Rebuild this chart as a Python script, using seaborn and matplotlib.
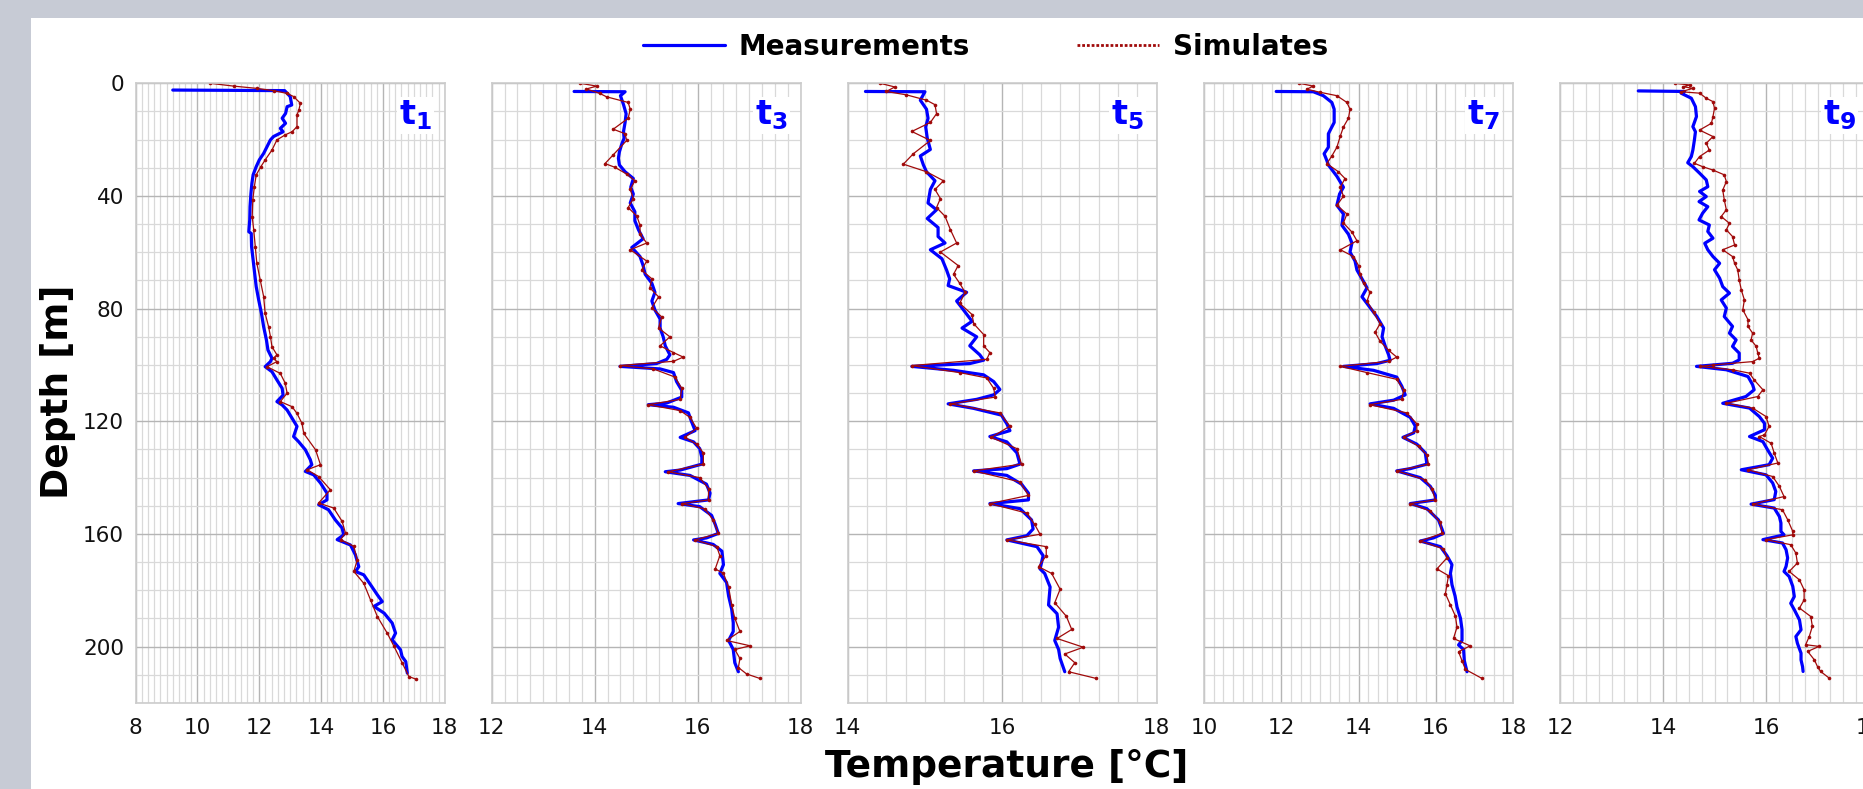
import matplotlib
matplotlib.use("Agg")
import matplotlib.pyplot as plt
import pandas as pd
import seaborn as sns
from matplotlib.lines import Line2D
from matplotlib.patches import Rectangle
from matplotlib.ticker import MultipleLocator

# (depth [m], temperature [degC])
T1_MEAS = [(2.4, 9.2), (2.6, 12.82), (4.7, 13.0), (7.7, 13.05), (8.3, 12.9), (10.7, 12.85), (12.4, 12.74),
           (14.2, 12.85), (16.0, 12.68), (17.2, 12.77), (18.9, 12.46), (20.1, 12.36), (22.5, 12.25), (24.9, 12.14),
           (27.2, 12.0), (29.6, 11.9), (32.5, 11.8), (35.5, 11.76), (39.0, 11.73), (43.8, 11.7), (48.5, 11.69),
           (52.7, 11.66), (53.3, 11.74), (58.0, 11.75), (62.7, 11.8), (67.5, 11.85), (72.2, 11.9), (76.9, 11.98),
           (81.7, 12.07), (86.4, 12.14), (91.1, 12.23), (94.7, 12.28), (97.6, 12.41), (98.8, 12.36), (100.6, 12.19),
           (102.4, 12.41), (105.3, 12.57), (108.3, 12.74), (110.7, 12.77), (113.0, 12.57), (114.2, 12.74),
           (116.0, 12.9), (119.8, 13.11), (121.8, 13.22), (125.4, 13.11), (127.2, 13.27), (130.1, 13.49),
           (133.6, 13.65), (135.4, 13.7), (137.8, 13.49), (139.0, 13.76), (141.9, 13.98), (145.5, 14.19),
           (147.9, 14.19), (149.6, 13.92), (151.4, 14.24), (155.0, 14.46), (157.9, 14.68), (160.3, 14.73),
           (162.0, 14.52), (163.9, 14.95), (167.4, 15.11), (171.6, 15.22), (173.3, 15.11), (174.5, 15.38),
           (178.0, 15.6), (181.6, 15.82), (184.0, 15.98), (185.7, 15.71), (188.1, 16.04), (191.6, 16.3),
           (195.2, 16.41), (197.6, 16.3), (201.1, 16.57), (203.5, 16.62), (205.3, 16.74), (209.4, 16.79)]
T1_SIM = [(0.0, 10.41), (1.0, 11.17), (1.8, 11.92), (2.6, 12.46), (3.6, 12.9), (4.7, 13.11), (7.1, 13.33),
          (9.5, 13.28), (11.2, 13.22), (15.4, 13.22), (17.2, 13.06), (18.3, 12.84), (20.1, 12.57), (23.7, 12.41),
          (27.2, 12.19), (29.6, 12.05), (32.5, 11.9), (36.7, 11.84), (41.4, 11.79), (47.3, 11.77), (52.1, 11.82),
          (58.0, 11.87), (63.9, 11.92), (69.8, 12.03), (75.7, 12.14), (81.7, 12.19), (86.4, 12.3), (89.9, 12.36),
          (93.5, 12.41), (96.4, 12.57), (97.6, 12.46), (98.8, 12.57), (100.6, 12.25), (103.0, 12.68),
          (106.5, 12.84), (110.0, 12.9), (113.0, 12.68), (114.8, 13.06), (117.2, 13.22), (120.7, 13.38),
          (124.3, 13.44), (130.1, 13.82), (135.4, 13.98), (137.2, 13.55), (139.6, 13.92), (144.3, 14.3),
          (149.0, 13.92), (150.8, 14.41), (155.5, 14.68), (159.7, 14.79), (162.0, 14.63), (164.4, 15.06),
          (169.2, 15.17), (173.3, 15.06), (177.5, 15.38), (183.4, 15.6), (189.3, 15.82), (195.2, 16.14),
          (199.9, 16.36), (205.9, 16.63), (210.6, 16.84), (211.5, 17.06)]

T3_MEAS = [(2.9, 13.6), (3.0, 14.59), (4.4, 14.5), (7.6, 14.56), (10.8, 14.61), (13.9, 14.59), (17.1, 14.56),
           (19.5, 14.57), (21.9, 14.52), (24.3, 14.48), (26.6, 14.46), (29.0, 14.48), (31.4, 14.59), (33.8, 14.75),
           (36.9, 14.7), (39.3, 14.75), (42.5, 14.69), (45.6, 14.78), (48.8, 14.78), (52.0, 14.85), (55.2, 14.94),
           (58.3, 14.72), (61.5, 14.88), (64.7, 14.94), (67.8, 14.98), (71.0, 15.11), (74.2, 15.17), (77.3, 15.11),
           (80.5, 15.17), (83.7, 15.27), (86.9, 15.27), (90.0, 15.33), (93.2, 15.37), (96.4, 15.46), (98.0, 15.4),
           (99.5, 15.2), (100.5, 14.49), (101.4, 15.27), (102.7, 15.53), (105.9, 15.59), (109.0, 15.69),
           (111.4, 15.69), (113.5, 15.4), (114.1, 15.04), (115.0, 15.53), (117.0, 15.82), (120.1, 15.88),
           (123.3, 15.95), (125.7, 15.66), (127.3, 15.92), (129.7, 16.04), (132.8, 16.08), (135.2, 16.08),
           (137.3, 15.66), (137.9, 15.37), (139.2, 15.85), (142.3, 16.17), (145.5, 16.24), (147.9, 16.21),
           (149.2, 15.62), (150.3, 16.04), (153.4, 16.27), (156.6, 16.34), (159.8, 16.4), (161.4, 16.17),
           (162.1, 15.92), (163.7, 16.3), (166.1, 16.47), (170.9, 16.5), (174.0, 16.43), (177.2, 16.56),
           (182.0, 16.6), (186.7, 16.66), (191.5, 16.69), (194.6, 16.69), (197.8, 16.6), (201.0, 16.69),
           (205.7, 16.72), (208.9, 16.79)]
T3_SIM = [(0.0, 13.72), (1.0, 14.04), (2.0, 13.84), (3.6, 14.1), (4.8, 14.23), (6.8, 14.65), (9.2, 14.69),
          (12.4, 14.65), (16.3, 14.36), (17.9, 14.59), (20.3, 14.62), (25.4, 14.36), (28.5, 14.2), (29.8, 14.39),
          (32.2, 14.62), (34.6, 14.78), (37.7, 14.69), (40.9, 14.75), (44.1, 14.65), (47.2, 14.82), (50.4, 14.88),
          (53.6, 14.88), (56.7, 15.01), (59.1, 14.69), (63.1, 15.01), (66.3, 14.91), (69.4, 15.11), (72.6, 15.07),
          (75.8, 15.24), (79.7, 15.11), (82.9, 15.3), (86.9, 15.24), (90.0, 15.46), (93.2, 15.27), (95.6, 15.53),
          (97.2, 15.72), (98.7, 15.53), (100.2, 14.49), (101.4, 15.14), (104.3, 15.56), (108.3, 15.69),
          (112.2, 15.66), (114.1, 15.04), (116.2, 15.66), (118.6, 15.85), (122.5, 15.98), (125.7, 15.75),
          (128.1, 15.98), (131.2, 16.11), (135.2, 16.11), (137.9, 15.43), (140.0, 16.04), (143.9, 16.21),
          (147.9, 16.21), (149.2, 15.69), (151.1, 16.14), (155.0, 16.3), (159.8, 16.4), (162.1, 15.95),
          (164.5, 16.37), (167.7, 16.43), (172.4, 16.34), (174.0, 16.5), (178.8, 16.6), (185.2, 16.66),
          (189.9, 16.72), (194.6, 16.82), (197.8, 16.56), (199.7, 17.02), (201.0, 16.72), (204.2, 16.82),
          (207.4, 16.79), (209.7, 16.95), (211.3, 17.21)]

T5_MEAS = [(2.9, 14.23), (3.0, 15.0), (6.0, 14.94), (9.2, 15.02), (12.4, 15.04), (15.5, 15.01), (19.5, 15.03),
           (23.5, 15.07), (25.8, 14.94), (29.0, 14.98), (31.4, 15.02), (34.6, 15.13), (37.7, 15.07), (42.5, 15.04),
           (44.9, 15.15), (48.0, 15.03), (51.2, 15.17), (54.4, 15.17), (56.7, 15.26), (59.1, 15.07), (62.3, 15.22),
           (66.3, 15.28), (69.4, 15.32), (71.8, 15.3), (74.2, 15.54), (77.3, 15.41), (80.5, 15.5), (84.5, 15.61),
           (86.9, 15.48), (90.0, 15.67), (93.2, 15.58), (96.4, 15.71), (98.3, 15.76), (99.5, 15.58), (100.5, 14.83),
           (101.9, 15.37), (103.5, 15.76), (105.9, 15.89), (108.7, 15.97), (110.6, 15.89), (112.2, 15.67),
           (113.8, 15.3), (115.4, 15.63), (117.8, 15.99), (120.9, 16.06), (123.3, 16.1), (125.4, 15.84),
           (127.3, 16.06), (131.2, 16.19), (135.2, 16.23), (136.8, 16.06), (137.6, 15.63), (139.2, 16.06),
           (142.3, 16.25), (145.5, 16.34), (147.9, 16.34), (149.2, 15.84), (151.0, 16.23), (155.0, 16.38),
           (158.2, 16.4), (160.6, 16.32), (162.1, 16.06), (164.5, 16.45), (167.7, 16.53), (172.4, 16.49),
           (174.0, 16.55), (178.8, 16.62), (185.2, 16.6), (188.3, 16.71), (193.1, 16.73), (197.8, 16.68),
           (201.0, 16.73), (204.2, 16.75), (208.9, 16.81)]
T5_SIM = [(0.0, 14.42), (1.3, 14.61), (2.9, 14.5), (4.1, 14.76), (6.0, 15.02), (7.6, 15.13), (10.8, 15.15),
          (13.9, 15.07), (17.1, 14.83), (20.3, 15.07), (25.0, 14.85), (28.7, 14.72), (31.4, 15.02), (34.6, 15.24),
          (37.7, 15.13), (40.9, 15.2), (44.1, 15.15), (47.2, 15.26), (52.0, 15.33), (56.7, 15.41), (59.9, 15.2),
          (64.7, 15.43), (67.8, 15.37), (71.0, 15.45), (74.2, 15.52), (78.1, 15.45), (82.1, 15.61), (85.3, 15.63),
          (89.2, 15.76), (93.2, 15.76), (95.6, 15.84), (98.0, 15.8), (100.2, 14.83), (102.7, 15.45),
          (104.6, 15.8), (108.3, 15.89), (111.4, 15.91), (113.8, 15.33), (117.0, 15.97), (121.7, 16.1),
          (125.7, 15.86), (129.7, 16.19), (135.2, 16.25), (137.6, 15.63), (141.5, 16.23), (146.3, 16.34),
          (149.2, 15.84), (152.6, 16.32), (156.6, 16.42), (160.1, 16.49), (162.1, 16.06), (164.5, 16.57),
          (167.7, 16.57), (171.6, 16.47), (174.0, 16.64), (179.6, 16.75), (184.4, 16.68), (189.2, 16.83),
          (193.9, 16.9), (197.1, 16.71), (200.2, 17.05), (202.6, 16.81), (205.7, 16.94), (208.9, 16.86),
          (211.3, 17.22)]

T7_MEAS = [(2.9, 11.87), (3.0, 12.83), (4.4, 13.09), (6.8, 13.31), (9.2, 13.37), (13.9, 13.37), (17.9, 13.22),
           (22.7, 13.22), (25.0, 13.11), (27.4, 13.18), (29.0, 13.22), (33.0, 13.44), (36.9, 13.61), (39.3, 13.51),
           (43.3, 13.44), (46.4, 13.61), (50.4, 13.57), (53.6, 13.74), (56.7, 13.83), (59.9, 13.78), (63.1, 13.91),
           (66.3, 13.96), (69.4, 14.09), (72.6, 14.22), (75.8, 14.09), (78.9, 14.26), (82.9, 14.48), (86.9, 14.65),
           (90.0, 14.61), (93.2, 14.69), (96.4, 14.78), (98.3, 14.82), (99.5, 14.48), (100.5, 13.61),
           (101.9, 14.39), (104.3, 14.99), (107.5, 15.12), (110.6, 15.21), (112.5, 14.91), (113.8, 14.3),
           (115.4, 14.91), (118.6, 15.34), (121.7, 15.47), (124.1, 15.43), (125.7, 15.15), (128.1, 15.51),
           (131.2, 15.73), (135.2, 15.77), (136.8, 15.34), (137.6, 14.99), (140.0, 15.6), (143.1, 15.86),
           (146.3, 15.99), (147.9, 15.99), (149.2, 15.34), (151.0, 15.77), (155.0, 16.07), (158.2, 16.16),
           (159.8, 16.2), (161.4, 15.94), (162.5, 15.6), (164.5, 16.12), (167.7, 16.29), (170.9, 16.42),
           (174.0, 16.38), (178.0, 16.42), (182.0, 16.5), (185.9, 16.55), (189.9, 16.64), (193.9, 16.68),
           (197.8, 16.68), (199.4, 16.59), (201.0, 16.72), (205.0, 16.74), (208.9, 16.81)]
T7_SIM = [(0.0, 12.47), (1.0, 12.83), (2.1, 12.66), (3.2, 13.01), (4.4, 13.44), (6.8, 13.7), (9.2, 13.78),
          (12.4, 13.74), (15.5, 13.61), (18.7, 13.53), (22.7, 13.44), (25.8, 13.31), (28.5, 13.18), (31.4, 13.48),
          (33.8, 13.65), (36.9, 13.53), (40.1, 13.61), (43.3, 13.44), (46.4, 13.7), (49.6, 13.61), (52.8, 13.83),
          (55.9, 13.96), (59.1, 13.53), (61.5, 13.87), (64.7, 14.0), (67.8, 14.04), (71.0, 14.13), (74.2, 14.3),
          (77.3, 14.22), (81.3, 14.39), (85.3, 14.56), (88.4, 14.43), (91.6, 14.56), (94.8, 14.78), (97.2, 14.99),
          (98.7, 14.78), (100.5, 13.53), (102.7, 14.22), (105.1, 14.99), (109.0, 15.17), (112.2, 15.12),
          (114.1, 14.29), (117.0, 15.25), (120.9, 15.51), (123.3, 15.51), (125.7, 15.17), (128.9, 15.56),
          (132.0, 15.77), (135.2, 15.81), (137.6, 14.99), (140.8, 15.73), (143.9, 15.9), (147.9, 15.99),
          (149.2, 15.34), (151.9, 15.86), (155.9, 16.12), (159.8, 16.16), (162.5, 15.6), (165.3, 16.2),
          (168.5, 16.29), (172.4, 16.03), (174.8, 16.33), (178.0, 16.29), (181.2, 16.25), (185.2, 16.38),
          (189.2, 16.51), (193.1, 16.55), (197.1, 16.46), (199.7, 16.89), (201.8, 16.59), (205.0, 16.68),
          (208.1, 16.77), (211.3, 17.2)]

T9_MEAS = [(2.7, 13.52), (2.9, 14.42), (3.5, 14.35), (5.3, 14.55), (8.3, 14.63), (11.8, 14.65), (15.4, 14.58),
           (17.2, 14.63), (20.1, 14.61), (23.7, 14.58), (26.0, 14.55), (28.2, 14.48), (29.6, 14.58), (31.9, 14.71),
           (34.3, 14.84), (36.7, 14.87), (38.4, 14.71), (40.2, 14.84), (42.0, 14.7), (43.8, 14.87), (46.1, 14.77),
           (48.5, 14.7), (50.3, 14.9), (52.6, 14.87), (55.0, 14.97), (56.8, 14.81), (59.1, 14.87), (61.5, 14.97),
           (63.9, 15.1), (66.2, 15.0), (69.2, 15.1), (72.2, 15.16), (74.5, 15.29), (76.9, 15.13), (79.8, 15.23),
           (82.8, 15.19), (86.3, 15.35), (88.7, 15.29), (91.1, 15.42), (93.4, 15.35), (95.8, 15.48), (98.2, 15.48),
           (99.4, 15.35), (100.5, 14.65), (101.7, 15.23), (104.1, 15.65), (107.0, 15.74), (108.8, 15.77),
           (111.2, 15.61), (113.6, 15.16), (115.3, 15.68), (118.3, 15.87), (120.7, 15.97), (123.0, 15.97),
           (125.4, 15.68), (127.2, 15.94), (130.1, 16.03), (133.1, 16.13), (135.4, 16.06), (137.2, 15.52),
           (139.0, 16.0), (141.9, 16.13), (144.9, 16.19), (147.8, 16.16), (149.4, 15.71), (150.8, 16.16),
           (153.8, 16.26), (156.1, 16.29), (159.1, 16.29), (160.3, 16.35), (162.0, 15.94), (163.2, 16.32),
           (165.6, 16.39), (168.5, 16.42), (171.5, 16.39), (173.3, 16.35), (175.1, 16.45), (178.6, 16.52),
           (182.2, 16.55), (184.6, 16.48), (186.9, 16.55), (190.5, 16.65), (194.0, 16.68), (196.4, 16.58),
           (198.8, 16.61), (202.3, 16.68), (204.7, 16.68), (207.1, 16.71), (208.8, 16.72)]
T9_SIM = [(0.0, 14.23), (0.6, 14.52), (1.2, 14.39), (1.8, 14.58), (3.0, 14.35), (3.5, 14.71), (5.3, 14.84),
          (6.5, 14.97), (8.9, 15.0), (11.8, 14.97), (14.2, 14.94), (16.6, 14.71), (18.9, 14.97), (21.3, 14.84),
          (23.7, 14.9), (26.0, 14.71), (28.4, 14.61), (29.6, 14.77), (30.8, 14.97), (32.5, 15.19), (34.9, 15.23),
          (37.9, 15.16), (41.4, 15.19), (44.9, 15.23), (47.3, 15.13), (49.7, 15.29), (52.0, 15.23), (54.4, 15.35),
          (57.4, 15.39), (59.1, 15.16), (61.5, 15.35), (63.9, 15.39), (66.2, 15.45), (69.8, 15.48), (73.3, 15.52),
          (76.9, 15.58), (80.4, 15.55), (83.9, 15.65), (86.3, 15.65), (88.7, 15.74), (91.1, 15.71), (93.4, 15.81),
          (95.8, 15.84), (97.6, 15.87), (98.8, 15.74), (100.0, 14.97), (100.5, 14.71), (101.7, 15.35),
          (102.9, 15.68), (105.3, 15.77), (108.8, 15.94), (111.2, 15.84), (113.6, 15.23), (115.3, 15.74),
          (118.3, 16.0), (121.8, 16.06), (124.8, 15.97), (125.4, 15.87), (127.8, 16.1), (131.3, 16.16),
          (134.8, 16.23), (137.2, 15.65), (139.6, 16.13), (143.1, 16.26), (146.7, 16.35), (149.4, 15.74),
          (151.4, 16.32), (154.9, 16.42), (159.1, 16.52), (160.3, 16.52), (162.0, 16.0), (163.8, 16.48),
          (166.8, 16.58), (170.3, 16.61), (173.3, 16.45), (176.3, 16.65), (179.8, 16.74), (183.4, 16.74),
          (186.3, 16.65), (189.3, 16.87), (192.8, 16.9), (196.4, 16.84), (199.3, 16.77), (199.9, 17.03),
          (201.7, 16.81), (204.7, 16.94), (207.1, 17.0), (208.8, 17.06), (211.2, 17.23)]

PANEL_LABELS = ["1", "3", "5", "7", "9"]
X_LIMITS = [(8, 18), (12, 18), (14, 18), (10, 18), (12, 18)]
X_MINOR = [0.2, 0.25, 0.25, 0.25, 0.25]
MEASUREMENTS = [T1_MEAS, T3_MEAS, T5_MEAS, T7_MEAS, T9_MEAS]
SIMULATES = [T1_SIM, T3_SIM, T5_SIM, T7_SIM, T9_SIM]
DEPTH_TICKS = [0, 40, 80, 120, 160, 200]

W, H = 1863, 789
BLUE = "#0000ff"
RED = "#a00a0a"

sns.set_theme(style="white")
plt.rcParams["font.family"] = ["DejaVu Sans"]
plt.rcParams["mathtext.fontset"] = "dejavusans"
plt.rcParams["text.color"] = "black"

fig = plt.figure(figsize=(W / 100, H / 100), dpi=100, facecolor="white")
# grey slide border on the top and left
fig.add_artist(Rectangle((0, 1 - 18 / H), 1, 18 / H, transform=fig.transFigure, color="#c7cbd5", lw=0))
fig.add_artist(Rectangle((0, 0), 31 / W, 1, transform=fig.transFigure, color="#c7cbd5", lw=0))

panel_left = [135.7, 491.7, 847.7, 1204.0, 1560.0]
panel_w, top, bottom = 309.0, 83.3, 703.0

for i, left in enumerate(panel_left):
    ax = fig.add_axes([left / W, (H - bottom) / H, panel_w / W, (bottom - top) / H])
    meas = pd.DataFrame(MEASUREMENTS[i], columns=["depth", "temp"])
    sim = pd.DataFrame(SIMULATES[i], columns=["depth", "temp"])
    sns.lineplot(data=meas, x="temp", y="depth", sort=False, estimator=None, color=BLUE,
                 lw=2.3, ax=ax, legend=False)
    sns.lineplot(data=sim, x="temp", y="depth", sort=False, estimator=None, color=RED,
                 lw=0.9, marker="o", markersize=2.6, markeredgewidth=0, ax=ax, legend=False)

    ax.set_xlim(*X_LIMITS[i])
    ax.set_ylim(220, 0)
    ax.set_xticks(range(X_LIMITS[i][0], X_LIMITS[i][1] + 1, 2))
    ax.xaxis.set_minor_locator(MultipleLocator(X_MINOR[i]))
    ax.set_yticks(DEPTH_TICKS)
    ax.yaxis.set_minor_locator(MultipleLocator(10))
    ax.grid(which="minor", color="#d9d9d9", lw=0.9)
    ax.grid(which="major", color="#b5b5b5", lw=1.0)
    ax.set_axisbelow(True)
    for sp in ax.spines.values():
        sp.set_color("#cccccc")
        sp.set_linewidth(1.2)
    ax.tick_params(which="both", length=0, labelsize=15.5, labelcolor="#111111")
    ax.tick_params(axis="x", pad=11)
    ax.tick_params(axis="y", pad=8.5, labelleft=(i == 0))
    ax.set_xlabel("")
    ax.set_ylabel("")
    ax.text(0.905, 0.948, rf"$\mathbf{{t}}_{{\mathbf{{{PANEL_LABELS[i]}}}}}$", transform=ax.transAxes,
            ha="center", va="center", fontsize=24, color=BLUE,
            bbox=dict(facecolor="white", edgecolor="none", pad=1.5))

handles = [Line2D([], [], color=BLUE, lw=2.3),
           Line2D([], [], color=RED, lw=2.0, ls=(0, (1, 0.7)))]
fig.legend(handles, ["Measurements", "Simulates"], loc="center", bbox_to_anchor=(985.5 / W, 1 - 47 / H),
           ncol=2, frameon=False, handlelength=2.95, handletextpad=0.5, columnspacing=3.85,
           prop=dict(size=20, weight="bold"), labelcolor="black")

fig.text(58 / W, 1 - 392 / H, "Depth [m]", rotation=90, ha="center", va="center",
         fontsize=27, fontweight="bold", color="black")
fig.text(1007 / W, 1 - 767 / H, "Temperature [°C]", ha="center", va="center",
         fontsize=27, fontweight="bold", color="black")

fig.savefig("out.png", dpi=100, facecolor="white")
